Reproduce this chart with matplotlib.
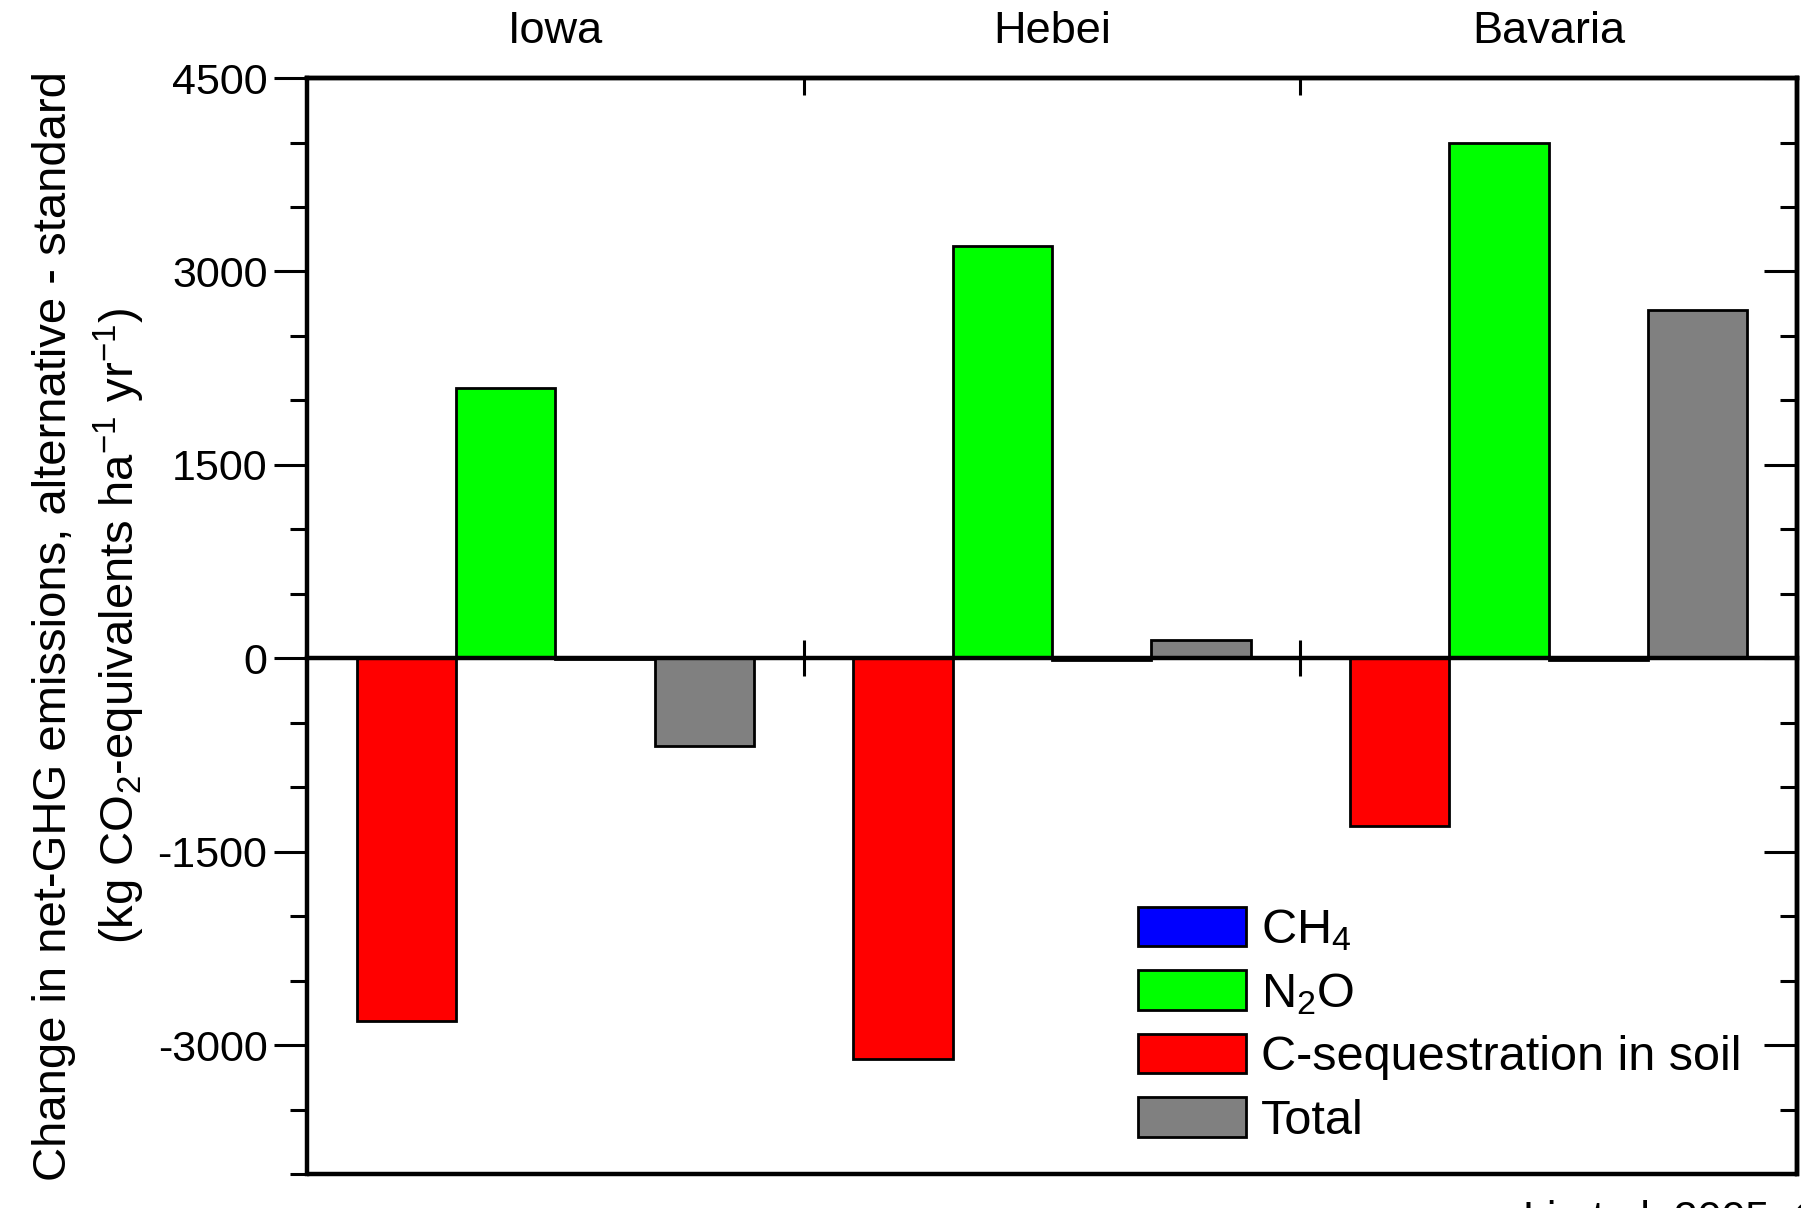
import numpy as np
import matplotlib
matplotlib.use("Agg")
import matplotlib.pyplot as plt
from matplotlib.patches import Patch

plt.rcParams['font.family'] = ['Liberation Sans', 'DejaVu Sans']
plt.rcParams['mathtext.fontset'] = 'custom'
plt.rcParams['mathtext.rm'] = 'Liberation Sans'
plt.rcParams['mathtext.it'] = 'Liberation Sans:italic'
plt.rcParams['axes.unicode_minus'] = False

# data
regions = ["Iowa", "Hebei", "Bavaria"]
c_seq = [-2810, -3110, -1300]
n2o = [2100, 3200, 4000]
ch4 = [-3, -10, -10]
total = [-680, 140, 2700]

series = [c_seq, n2o, ch4, total]
colors = ["#ff0000", "#00ff00", "#0000ff", "#808080"]
names = ["C-sequestration in soil", "N$_2$O", "CH$_4$", "Total"]

lw_frame = 3.2

fig = plt.figure(figsize=(18.01, 12.08), dpi=100)
ax = fig.add_axes([0.1705, 0.0281, 0.9978 - 0.1705, 0.9354 - 0.0281])

ng = len(regions)
gw = 5  # 4 bars + one empty slot per group
for i, vals in enumerate(series):
    x = np.arange(ng) * gw + 1 + i
    ax.bar(x, vals, width=1, color=colors[i], edgecolor="black", linewidth=2.0, zorder=2)

ax.set_xlim(0, ng * gw)
ax.set_ylim(-4000, 4500)

seps = np.arange(1, ng) * gw
centers = np.arange(ng) * gw + gw / 2

# x axis drawn at zero
ax.spines['bottom'].set_position(('data', 0))
ax.spines['bottom'].set_zorder(3)
for s in ax.spines.values():
    s.set_linewidth(lw_frame)
ax.plot([0, 1], [0, 0], transform=ax.transAxes, color="black", lw=lw_frame,
        clip_on=False, solid_capstyle="butt", zorder=5)
ax.set_xticks(seps)
ax.tick_params(axis='x', which='major', direction='inout', length=26, width=2.2,
               labelbottom=False, top=False)

# y axis
ax.set_yticks(np.arange(-3000, 4501, 1500))
ax.set_yticks(np.arange(-4000, 4501, 500), minor=True)
ax.tick_params(axis='y', which='major', direction='out', length=24, width=2.2,
               labelsize=31, pad=4.5)
ax.tick_params(axis='y', which='minor', direction='out', length=12, width=2.2)

rax = ax.secondary_yaxis('right')
rax.set_yticks(np.arange(-3000, 4501, 1500))
rax.set_yticks(np.arange(-4000, 4501, 500), minor=True)
rax.tick_params(axis='y', which='major', direction='in', length=24, width=2.2, labelright=False)
rax.tick_params(axis='y', which='minor', direction='in', length=12, width=2.2)
rax.spines['right'].set_linewidth(lw_frame)

# top: group separators and region names
tax = ax.secondary_xaxis('top')
tax.set_xticks(seps)
tax.set_xticks(centers, labels=regions, minor=True)
tax.tick_params(axis='x', which='major', direction='in', length=12, width=2.2, labeltop=False)
tax.tick_params(axis='x', which='minor', length=0, labelsize=32.5, pad=18.5)
tax.spines['top'].set_linewidth(lw_frame)

ax.set_ylabel("Change in net-GHG emissions, alternative - standard\n"
              "(kg CO$_2$-equivalents ha$^{-1}$ yr$^{-1}$)", fontsize=34,
              linespacing=1.36, labelpad=8)

order = [2, 1, 0, 3]
handles = [Patch(facecolor=colors[i], edgecolor="black", linewidth=2.0) for i in order]
ax.legend(handles, [names[i] for i in order], loc='upper left',
          bbox_to_anchor=(0.558, 0.244), frameon=False, fontsize=35,
          handlelength=2.22, handleheight=0.875, labelspacing=0.35,
          handletextpad=0.3, borderpad=0, borderaxespad=0)

fig.text(1523 / 1801, 1 - 1200 / 1208, "Li et al. 2005, Climatic Change",
         fontsize=31, va='top', ha='left')

fig.savefig("out.png", dpi=100)
